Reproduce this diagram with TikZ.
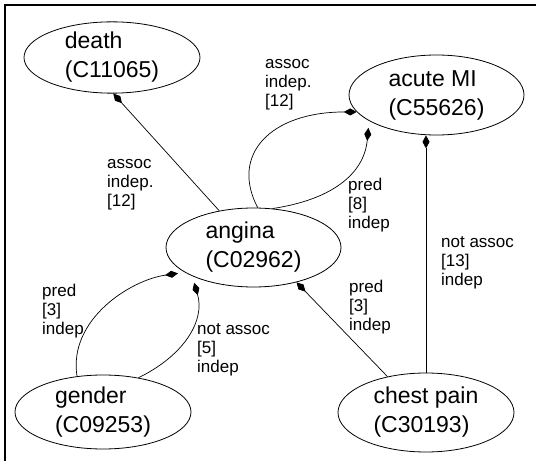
\documentclass[tikz,border=0pt]{standalone}
\usepackage{fontspec}
\setmainfont{Liberation Sans}
\usetikzlibrary{shapes.geometric,arrows.meta}
\begin{document}
\begin{tikzpicture}[x=1pt,y=1pt,
  ell/.style={draw, ellipse, inner sep=0pt, line width=0.8pt, align=left, font=\fontsize{23}{29}\selectfont},
  lbl/.style={inner sep=0pt, anchor=north west, align=left, font=\fontsize{17}{19}\selectfont},
  conn/.style={line width=0.7pt, -{Diamond[length=13pt,width=7pt]}}]
\useasboundingbox (0,0) rectangle (536,461);
\draw[line width=2pt] (5,0) -- (5,456) -- (536,456);

\node[ell, minimum width=176pt, minimum height=71pt] (death) at (112,403.5) {death\\(C11065)};
\node[ell, minimum width=175pt, minimum height=80pt] (acute) at (436.5,366) {acute MI\\(C55626)};
\node[ell, minimum width=175pt, minimum height=79pt] (angina) at (253.5,213.5) {angina\\(C02962)};
\node[ell, minimum width=176pt, minimum height=74pt] (gender) at (103,49) {gender\\(C09253)};
\node[ell, minimum width=176pt, minimum height=79pt] (chest) at (426,48.5) {chest pain\\(C30193)};

\draw[conn] (angina.133) -- (death.272);
\draw[conn] (angina.84) .. controls (230,306) and (270,349) .. (acute.192);
\draw[conn, shorten >=7pt] (angina.64) .. controls (330,261) and (364,286) .. (acute.201);
\draw[conn, shorten >=7pt] (gender.126) .. controls (68,141) and (130,181) .. (angina.200);
\draw[conn, shorten >=7pt] (gender.44) .. controls (185,106) and (205,141) .. (angina.205);
\draw[conn] (chest.137) -- (angina.321);
\draw[conn] (chest.north) -- (chest.north |- acute.south);

\node[lbl] (l1) at (107,306.3) {\strut assoc\\indep.\\{[12]}};
\node[lbl] (l2) at (265,406.3) {\strut assoc\\indep.\\{[12]}};
\node[lbl] (l3) at (348,284.3) {\strut pred\\{[8]}\\indep};
\node[lbl] (l4) at (349,182.3) {\strut pred\\{[3]}\\indep};
\node[lbl] (l5) at (441,227.3) {\strut not assoc\\{[13]}\\indep};
\node[lbl] (l6) at (42,178.3) {\strut pred\\{[3]}\\indep};
\node[lbl] (l7) at (197,140.3) {\strut not assoc\\{[5]}\\indep};
\end{tikzpicture}
\end{document}
